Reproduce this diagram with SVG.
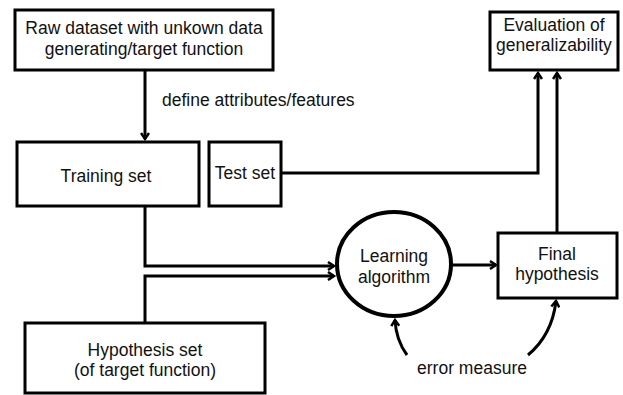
<svg xmlns="http://www.w3.org/2000/svg" width="623" height="395" viewBox="0 0 623 395">
<style>
.box{fill:#fff;stroke:#000;stroke-width:3}
.ln{fill:none;stroke:#000;stroke-width:3}
.t{font-family:"Liberation Sans",Arial,sans-serif;font-size:17.5px;fill:#111;text-anchor:middle}
.s{text-anchor:start}
</style>
<defs>
<marker id="ah" markerWidth="10" markerHeight="10" refX="7" refY="5" orient="auto" markerUnits="userSpaceOnUse">
<polyline points="1,1 7,5 1,9" fill="none" stroke="#000" stroke-width="2.5"/>
</marker>
</defs>
<rect width="623" height="395" fill="#fff"/>
<g id="connectors">
<line class="ln" x1="145" y1="71" x2="145" y2="139" marker-end="url(#ah)"/>
<polyline class="ln" points="281,173 538,173 538,73" marker-end="url(#ah)"/>
<line class="ln" x1="557" y1="233" x2="557" y2="73" marker-end="url(#ah)"/>
<polyline class="ln" points="145,206 145,266 334,266" marker-end="url(#ah)"/>
<polyline class="ln" points="145,323 145,276 334,276" marker-end="url(#ah)"/>
<line class="ln" x1="452" y1="265" x2="496" y2="265" marker-end="url(#ah)"/>
<path class="ln" d="M407,355 Q396,340 395,320" marker-end="url(#ah)"/>
<path class="ln" d="M528,355 Q552,335 556,301" marker-end="url(#ah)"/>
<text class="t s" x="162" y="106">define attributes/features</text>
<text class="t" x="472" y="374">error measure</text>
</g>
<g id="raw">
<rect class="box" x="15" y="10" width="258" height="60"/>
<text class="t" x="144" y="34">Raw dataset with unkown data</text>
<text class="t" x="144" y="55">generating/target function</text>
</g>
<g id="eval">
<rect class="box" x="490" y="12" width="128" height="58"/>
<text class="t" x="554" y="31">Evaluation of</text>
<text class="t" x="554" y="51">generalizability</text>
</g>
<g id="training">
<rect class="box" x="17" y="142" width="182" height="64"/>
<text class="t" x="106" y="182">Training set</text>
</g>
<g id="test">
<rect class="box" x="209" y="142" width="72" height="64"/>
<text class="t" x="245" y="179">Test set</text>
</g>
<g id="learning">
<ellipse cx="394" cy="264" rx="57" ry="52" fill="#fff" stroke="#000" stroke-width="4"/>
<text class="t" x="394" y="262">Learning</text>
<text class="t" x="394" y="283">algorithm</text>
</g>
<g id="final">
<rect class="box" x="498" y="233" width="119" height="65"/>
<text class="t" x="557" y="260">Final</text>
<text class="t" x="557" y="280">hypothesis</text>
</g>
<g id="hypset">
<rect class="box" x="25" y="323" width="240" height="70"/>
<text class="t" x="145" y="356">Hypothesis set</text>
<text class="t" x="145" y="376">(of target function)</text>
</g>
</svg>
